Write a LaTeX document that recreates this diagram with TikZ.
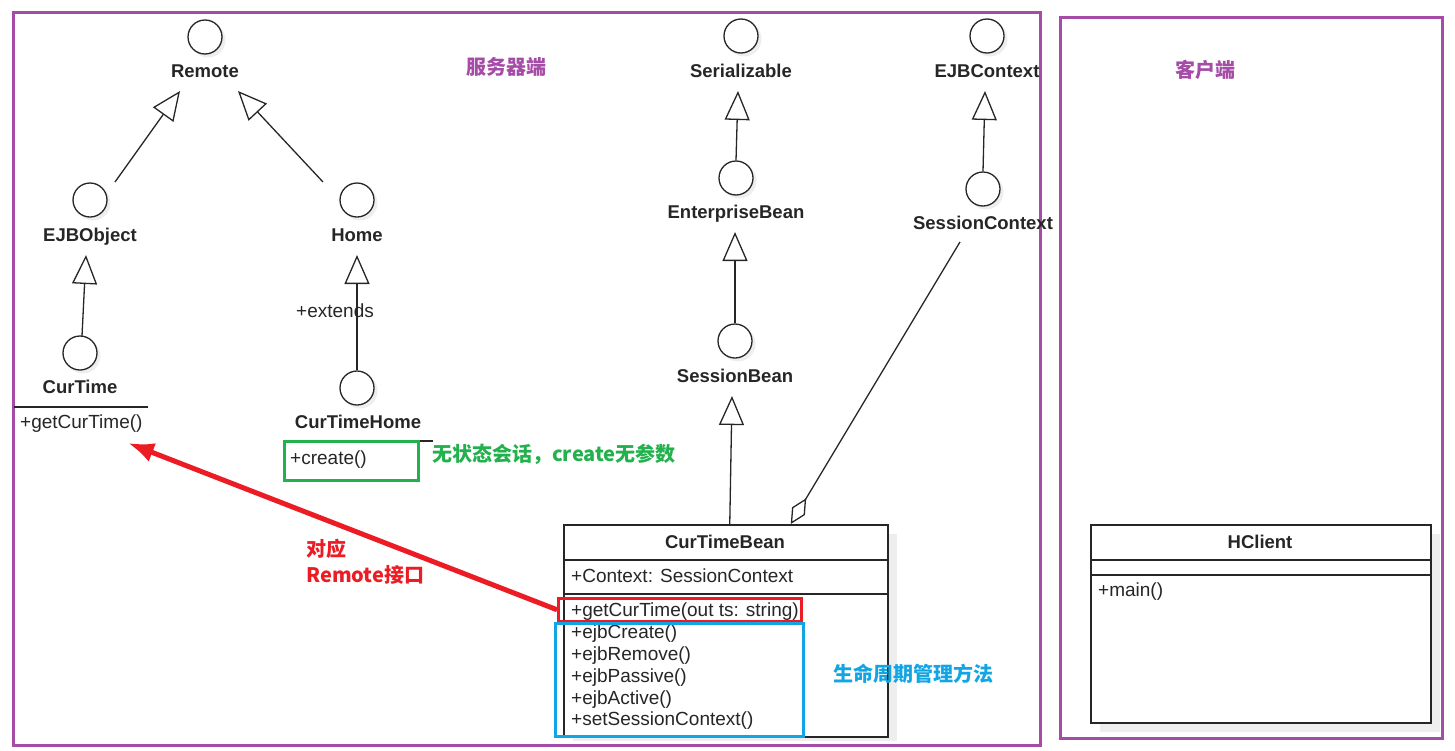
\documentclass[tikz,border=0pt]{standalone}
\usepackage{fontspec}
\setmainfont{Liberation Sans}
\newfontfamily\cjk{Noto Sans CJK SC}
\usetikzlibrary{arrows.meta,calc}
\definecolor{framepurple}{HTML}{A54CA7}
\definecolor{ink}{HTML}{262626}
\definecolor{shadowgray}{HTML}{EEEEEE}
\definecolor{notegreen}{HTML}{22B14C}
\definecolor{noteblue}{HTML}{12A5E3}
\definecolor{notered}{HTML}{EC1C24}
\newcommand\umlsize{\fontsize{18.5}{22}\selectfont}
\newcommand\membersize{\fontsize{19}{22}\selectfont}
\newcommand\notesize{\fontsize{20}{24}\selectfont}
\begin{document}
\begin{tikzpicture}[x=1pt,y=-1pt,
  iface/.style={circle, draw=ink, line width=1.3pt, fill=white, minimum size=34pt, inner sep=0pt},
  lbl/.style={inner sep=0pt, text height=13.5pt, text depth=0pt, font=\bfseries\umlsize, text=ink},
  member/.style={inner sep=0pt, text height=14pt, text depth=0pt, font=\membersize, text=ink, anchor=west},
  note/.style={inner sep=0pt, text height=16pt, text depth=0pt, font=\cjk\bfseries\notesize, anchor=west},
  gen/.style={draw=ink, line width=1.3pt, -{Triangle[open, length=29pt, width=25pt, fill=white]}},
  agg/.style={draw=ink, line width=1.3pt, -{Diamond[open, length=30pt, width=15pt, fill=white]}},
  classbox/.style={draw=ink, line width=1.5pt, fill=white, inner sep=0pt, anchor=north west},
  frame/.style={draw=framepurple, line width=3pt},
  hilite/.style={line width=2.5pt, inner sep=0pt, anchor=north west}
]
\useasboundingbox (0,0) rectangle (1455,750);

% server and client frames
\draw[frame] (13,12) rectangle (1040,745);
\draw[frame] (1060,17) rectangle (1442,738);
\node[note, anchor=center, text=framepurple] (serverL) at (506,66) {服务器端};
\node[note, anchor=center, text=framepurple] (clientL) at (1205,69) {客户端};

% interface lollipops (shadow first, then the circle)
\foreach \nm/\px/\py in {remote/205/37, ejbobj/90/200, home/357/200, curtime/80/353,
  cthome/357/388, serial/741/36, entbean/736/178, sessbean/735/341,
  ejbctx/987/36, sessctx/983/189}{
  \fill[shadowgray] (\px+3,\py+3) circle (17.5);
  \node[iface] (\nm) at (\px,\py) {};
}

\node[lbl] (remoteL)   at (205,71)  {Remote};
\node[lbl] (ejbobjL)   at (90,235)  {EJBObject};
\node[lbl] (homeL)     at (357,235) {Home};
\node[lbl] (curtimeL)  at (80,387)  {CurTime};
\node[lbl] (cthomeL)   at (358,422) {CurTimeHome};
\node[lbl] (serialL)   at (741,71)  {Serializable};
\node[lbl] (entbeanL)  at (736,212) {EnterpriseBean};
\node[lbl] (sessbeanL) at (735,376) {SessionBean};
\node[lbl] (ejbctxL)   at (987,71)  {EJBContext};
\node[lbl] (sessctxL)  at (983,223) {SessionContext};

% CurTime and CurTimeHome operations
\draw[ink, line width=1.3pt] (14,407) -- (148,407);
\node[member] (ctmeth) at (20,421) {+getCurTime()};
\draw[ink, line width=1.3pt] (283,441) -- (433,441);
\node[member] (cthmeth) at (290,457) {+create()};
\node[hilite, draw=notegreen, minimum width=134pt, minimum height=39pt] (greenbox) at (283,440) {};
\node[member] (extendsL) at (296,310) {+extends};

% CurTimeBean class
\fill[shadowgray] (573,534) rectangle (897,741);
\node[classbox, minimum width=324pt, minimum height=212pt] (bean) at (563,524) {};
\draw[ink, line width=1.5pt] ($(bean.north west)+(0,36)$) -- ($(bean.north east)+(0,36)$);
\draw[ink, line width=1.5pt] ($(bean.north west)+(0,70)$) -- ($(bean.north east)+(0,70)$);
\node[lbl] (beanL) at (725,542) {CurTimeBean};
\node[member] (beanattr) at (571,575) {+Context: SessionContext};
\node[member] (m1) at (571,609) {+getCurTime(out ts: string)};
\node[member] (m2) at (571,631) {+ejbCreate()};
\node[member] (m3) at (571,653) {+ejbRemove()};
\node[member] (m4) at (571,675) {+ejbPassive()};
\node[member] (m5) at (571,697) {+ejbActive()};
\node[member] (m6) at (571,718) {+setSessionContext()};
\node[hilite, draw=notered, minimum width=243pt, minimum height=23pt] (redbox) at (557,597) {};
\node[hilite, draw=noteblue, minimum width=248pt, minimum height=113pt] (bluebox) at (554,622) {};

% HClient class
\fill[shadowgray] (1100,534) rectangle (1440,732);
\node[classbox, minimum width=340pt, minimum height=198pt] (hclient) at (1090,524) {};
\draw[ink, line width=1.5pt] ($(hclient.north west)+(0,36)$) -- ($(hclient.north east)+(0,36)$);
\draw[ink, line width=1.5pt] ($(hclient.north west)+(0,51)$) -- ($(hclient.north east)+(0,51)$);
\node[lbl] (hclientL) at (1260,542) {HClient};
\node[member] (hmain) at (1098,589) {+main()};

% generalizations
\draw[gen] ($(ejbobj.center)+(25,-18)$) -- ($(remote.center)+(-25,54)$);
\draw[gen] ($(home.center)+(-34,-18)$) -- ($(remote.center)+(33,54)$);
\draw[gen] ($(curtime.center)+(2,-17)$) -- ($(ejbobj.center)+(-4,55)$);
\draw[gen] (cthome.north) -- ($(home.center)+(0,55)$);
\draw[gen] (entbean.north) -- ($(serial.center)+(-3,55)$);
\draw[gen] (sessbean.north) -- ($(entbean.center)+(-1,54)$);
\draw[gen] ($(bean.north)+(4,0)$) -- ($(sessbean.center)+(-3,55)$);
\draw[gen] (sessctx.north) -- ($(ejbctx.center)+(-2,55)$);

% aggregation of the session context
\draw[agg] ($(sessctxL.south)+(-23,12)$) -- ($(bean.north)+(65,0)$);

% annotations
\coordinate (redtip) at (128,443);
\draw[notered, line width=5pt, -{Latex[length=26pt, width=20pt]}] (redbox.west) -- (redtip);
\node[note, text=notegreen] (greenL) at (432,453) {无状态会话，create无参数};
\node[note, text=notered] (redL1) at (306,548) {对应};
\node[note, text=notered] (redL2) at (306,574) {Remote接口};
\node[note, text=noteblue] (blueL) at (833,673) {生命周期管理方法};
\end{tikzpicture}
\end{document}
